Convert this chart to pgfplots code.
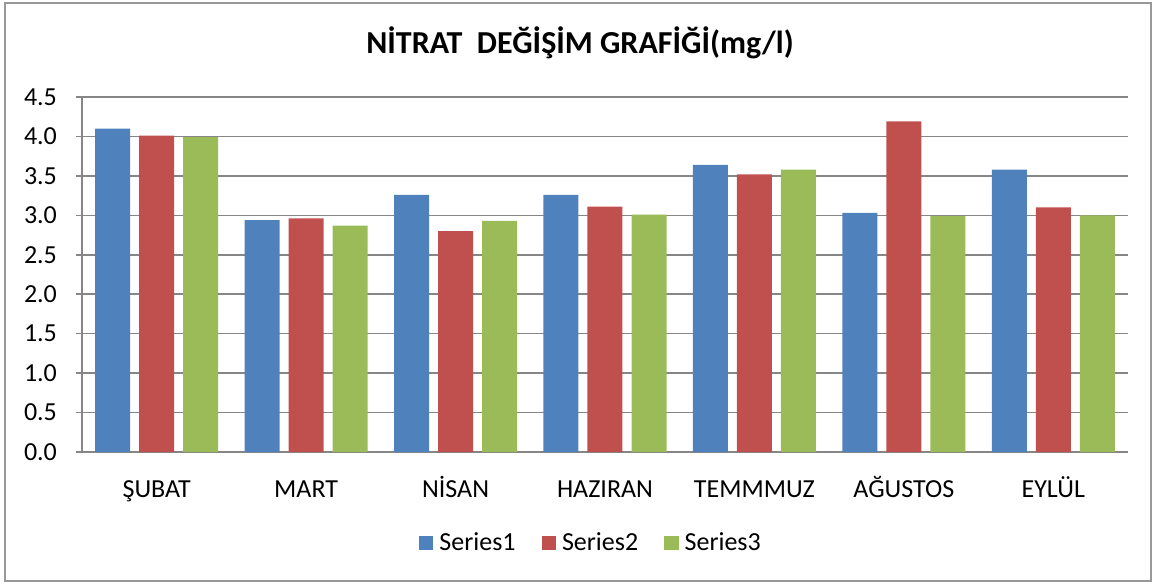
\documentclass[border=0pt]{standalone}
\usepackage{pgfplots}
\pgfplotsset{compat=1.18}
\usepackage{fontspec}
\setmainfont{Carlito}
\definecolor{sA}{HTML}{4F81BD}
\definecolor{sB}{HTML}{C0504D}
\definecolor{sC}{HTML}{9BBB59}
\definecolor{gridc}{HTML}{868686}
\begin{document}
\begin{tikzpicture}
\useasboundingbox (0,0) rectangle (578pt,292pt);
\draw[gray!80, line width=0.6pt] (2.5pt,1.5pt) rectangle (575.5pt,290.5pt);
\node[font=\fontsize{16}{18}\selectfont\bfseries] at (290pt,270.5pt) {NİTRAT\ \ DEĞİŞİM GRAFİĞİ(mg/l)};
\begin{axis}[
  at={(41pt,66pt)}, anchor=south west,
  scale only axis, width=523pt, height=177.5pt,
  xmin=-0.5, xmax=6.5, ymin=0, ymax=4.5,
  ybar=4.5pt, bar width=17.5pt,
  xtick=data,
  xticklabels={ŞUBAT,MART,NİSAN,HAZIRAN,TEMMMUZ,AĞUSTOS,EYLÜL},
  ytick={0,0.5,...,4.5},
  axis x line*=bottom, axis y line*=left,
  axis line style={gridc, line width=0.75pt},
  ymajorgrids, grid style={gridc, line width=0.75pt},
  tick align=outside,
  x tick style={draw=none}, major x tick style={draw=none},
  y tick style={gridc, line width=0.75pt}, major tick length=3pt,
  tick label style={font=\fontsize{13}{15}\selectfont},
  /pgf/number format/assume math mode=true,
  yticklabel style={xshift=-6pt, /pgf/number format/.cd, fixed, fixed zerofill, precision=1},
  xticklabel style={anchor=base, inner sep=0pt, yshift=-19.5pt},
  legend style={at={(0.4875,-0.256)}, anchor=center, draw=none,
    font=\fontsize{13}{15}\selectfont, legend columns=-1,
    /tikz/every odd column/.append style={column sep=1pt},
    /tikz/every even column/.append style={column sep=11pt}},
  legend image code/.code={\fill[#1] (0pt,-3.6pt) rectangle (7.2pt,3.6pt);},
]
\addplot[fill=sA, draw=none] coordinates {(0,4.10) (1,2.94) (2,3.26) (3,3.26) (4,3.64) (5,3.03) (6,3.58)};
\addplot[fill=sB, draw=none] coordinates {(0,4.01) (1,2.96) (2,2.80) (3,3.11) (4,3.52) (5,4.19) (6,3.10)};
\addplot[fill=sC, draw=none] coordinates {(0,3.99) (1,2.87) (2,2.93) (3,3.01) (4,3.58) (5,2.99) (6,3.00)};
\legend{Series1,Series2,Series3}
\end{axis}
\end{tikzpicture}
\end{document}
